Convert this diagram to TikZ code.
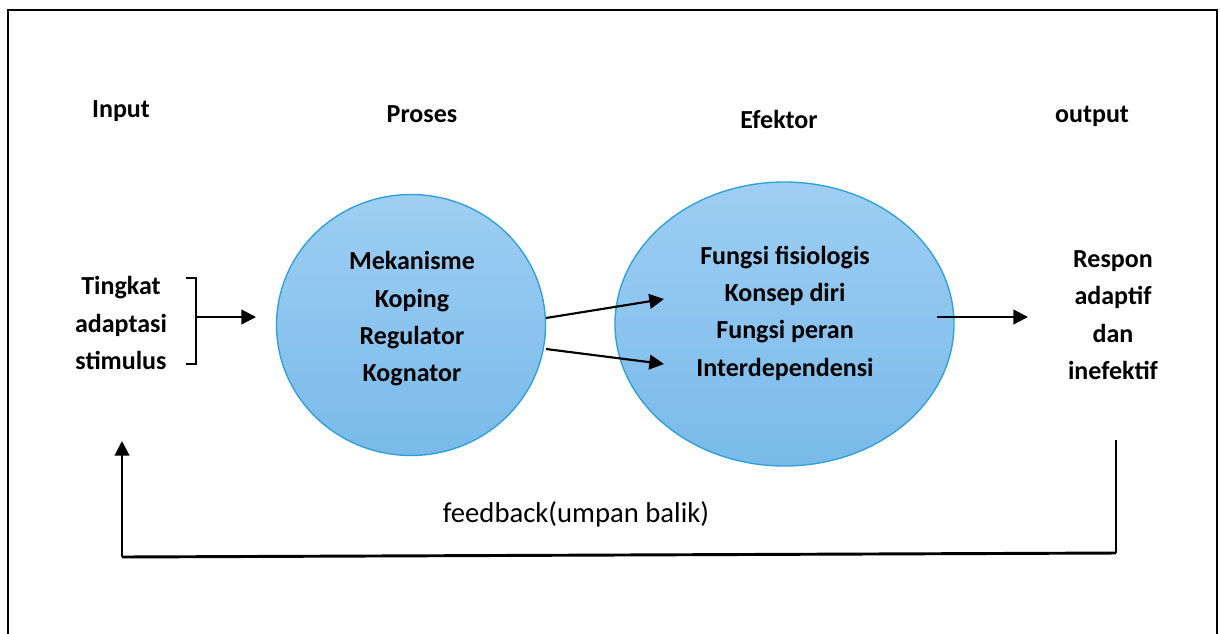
\documentclass[tikz,border=0pt]{standalone}
\usepackage{fontspec}
\setmainfont{Carlito}
\usetikzlibrary{shapes.geometric,arrows.meta}
\definecolor{circtop}{RGB}{158,206,243}
\definecolor{circbot}{RGB}{121,186,234}
\definecolor{circline}{RGB}{45,160,215}

\begin{document}
\begin{tikzpicture}[x=0.75pt,y=-0.75pt,
    lbl/.style={font=\fontsize{19.5}{28}\selectfont\bfseries, align=center, inner sep=0pt},
    blob/.style={ellipse, draw=circline, line width=1pt, top color=circtop, bottom color=circbot, inner sep=0pt},
    link/.style={line width=1.6pt, -{Triangle[length=11pt,width=11pt]}}]

          \useasboundingbox (0,0) rectangle (1220,633);
          \draw[line width=2.2pt] (8,700) -- (8,10) -- (1217,10) -- (1217,700);

          % headings
          \node[lbl] (input) at (121,111) {Input};
          \node[lbl] (proses) at (422,114) {Proses};
          \node[lbl] (efektor) at (779,119) {Efektor};
          \node[lbl] (output) at (1092,116) {output};

          % circles
          \node[blob, minimum width=201.75pt, minimum height=195.75pt] (koping) at (411,325) {};
          \node[blob, minimum width=254.25pt, minimum height=213pt] (fungsi) at (784.5,324) {};
          \node[lbl] (kopingtxt) at (412,319) {Mekanisme\\Koping\\Regulator\\Kognator};
          \node[lbl] (fungsitxt) at (785,313) {Fungsi fisiologis\\Konsep diri\\Fungsi peran\\Interdependensi};

          \node[lbl] (stimulus) at (121,323) {Tingkat\\adaptasi\\stimulus};
          \node[lbl] (respon) at (1113,315) {Respon\\adaptif\\dan\\inefektif};

          \coordinate (b1) at (186,278);
          \coordinate (b2) at (196,278);
          \coordinate (b3) at (196,364);
          \coordinate (b4) at (186,364);
          \coordinate (bm) at (196,317);
          \coordinate (bt) at (256,317);
          \draw[line width=1.4pt] (b1) -- (b2) -- (b3) -- (b4);
          \draw[link] (bm) -- (bt);

          \coordinate (k1) at (546,318);
          \coordinate (k2) at (546,349);
          \coordinate (f1) at (664,299);
          \coordinate (f2) at (664,364);
          \draw[link] (k1) -- (f1);
          \draw[link] (k2) -- (f2);

          \coordinate (o1) at (937,317);
          \coordinate (o2) at (1028,317);
          \draw[link] (o1) -- (o2);

          % feedback
          \coordinate (fb1) at (1116,440);
          \coordinate (fb2) at (1116,553);
          \coordinate (fb3) at (122,557);
          \coordinate (fb4) at (122,441);
          \draw[line width=1.6pt] (fb1) -- (fb2);
          \draw[line width=2.2pt] (fb2) -- (fb3);
          \draw[link] (fb3) -- (fb4);
          \node[font=\fontsize{21.5}{28}\selectfont, inner sep=0pt] (feedback) at (576,514) {feedback(umpan balik)};
        \end{tikzpicture}
\end{document}
